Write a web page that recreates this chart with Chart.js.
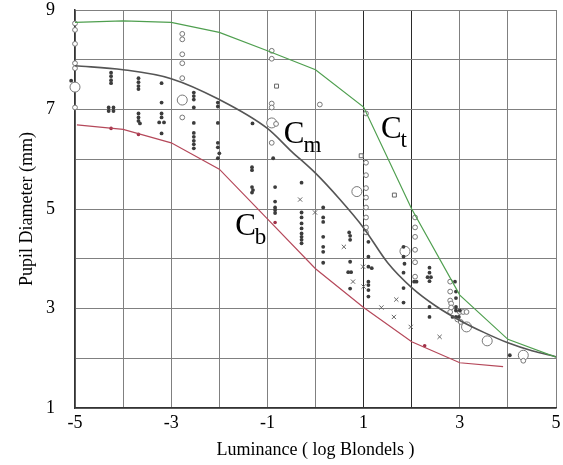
<!DOCTYPE html>
<html><head><meta charset="utf-8">
<script src="https://cdn.jsdelivr.net/npm/chart.js@4.4.1/dist/chart.umd.min.js"></script>
<style>html,body{margin:0;padding:0;background:#fff;} canvas{display:block;}</style>
</head><body>
<canvas id="c" width="563" height="465"></canvas>
<script>
// ---- tick labels ----
const xTickValues = [-5, -3, -1, 1, 3, 5];
const yTickValues = [1, 3, 5, 7, 9];
const xTitle = 'Luminance ( log Blondels )';
const yTitle = 'Pupil Diameter (mm)';

// ---- curves ----
const ctX = [-5, -4, -3, -2, -1, 0, 1, 2, 3, 4, 5];
const ctY = [8.75, 8.78, 8.75, 8.55, 8.18, 7.8, 7.05, 5.0, 3.27, 2.38, 2.02];
const cmX = [-5, -4, -3, -2, -1, -0.5, 0, 0.5, 1, 1.5, 2, 2.5, 3, 3.5, 4, 4.5, 5];
const cmY = [7.88, 7.8, 7.62, 7.2, 6.62, 6.16, 5.72, 5.2, 4.62, 3.92, 3.42, 3.05, 2.76, 2.52, 2.31, 2.15, 2.03];
const cbX = [-4.96, -4, -3, -2, -1, 0, 1, 2, 3, 3.9];
const cbY = [6.69, 6.6, 6.33, 5.8, 4.8, 3.8, 3.02, 2.33, 1.91, 1.83];
const cbMarkX = [-4.25, -3.68, -0.84, 2.27];
const cbMarkY = [6.62, 6.5, 4.73, 2.25];

// ---- observations: filled dots ----
const dotX = [-5.14,-5.1,-5.08,-5.2,-5.2,-5.12,-5.2,-5.14,
  -4.25,-4.25,-4.25,-4.25,-4.3,-4.2,-4.3,-4.2,
  -3.68,-3.68,-3.68,-3.68,-3.68,-3.68,-3.68,-3.65,
  -3.2,-3.2,-3.2,-3.2,-3.25,-3.15,-3.2,
  -2.53,-2.53,-2.53,-2.53,-2.53,-2.53,-2.53,-2.53,-2.53,-2.53,
  -2.03,-2.03,-2.03,-2.03,-2.03,-2.0,-2.03,
  -1.31,-1.32,-1.32,-1.32,-1.3,-1.32,
  -0.88,-0.84,-0.84,-0.84,-0.84,-0.84,
  -0.29,-0.29,-0.29,-0.29,-0.29,-0.29,-0.29,-0.29,-0.29,
  0.16,0.16,0.16,0.16,0.16,0.16,0.16,
  0.7,0.72,0.72,0.72,0.68,0.74,0.72,
  1.1,1.1,1.1,1.17,1.1,1.1,1.1,1.1,
  1.83,1.83,1.85,1.83,1.83,1.83,
  2.1,2.05,
  2.37,2.37,2.33,2.4,2.37,2.37,2.37,
  2.9,2.92,2.92,2.92,2.92,2.85,2.92,2.98,3.0,
  4.04];
const dotY = [7.83,7.63,7.58,7.25,7.13,7.13,7.02,6.63,
  7.74,7.67,7.59,7.53,7.04,7.04,6.97,6.97,
  7.63,7.55,7.47,7.41,6.92,6.84,6.77,6.72,
  7.53,7.14,6.92,6.84,6.74,6.74,6.52,
  7.34,7.27,7.2,7.04,6.73,6.53,6.45,6.37,6.3,6.22,
  7.14,7.06,6.73,6.33,6.24,6.12,6.02,
  6.72,5.84,5.78,5.44,5.38,5.33,
  6.02,5.44,5.15,5.03,4.98,4.92,
  5.53,4.93,4.83,4.71,4.61,4.51,4.44,4.38,4.31,
  5.03,4.83,4.74,4.44,4.24,4.14,3.92,
  4.53,4.46,4.38,3.94,3.73,3.73,3.4,
  4.34,4.04,3.84,3.81,3.54,3.47,3.37,3.24,
  4.24,4.04,3.9,3.72,3.41,3.12,
  3.54,3.54,
  3.82,3.72,3.63,3.63,3.55,3.03,2.83,
  3.54,3.34,3.21,3.03,2.96,2.83,2.83,2.83,2.96,
  2.06];

// ---- open circles (small) ----
const circX = [-5,-5,-5,-5,-5,-5,
  -2.77,-2.77,-2.77,-2.77,-2.77,-2.77,
  -0.91,-0.91,-0.91,-0.91,-0.82,-0.91,
  0.09,
  1.05,1.05,1.05,1.05,1.05,1.05,1.05,1.05,1.05,
  2.07,2.07,2.07,2.07,2.07,2.07,
  2.8,2.8,2.8,2.82,2.82,2.8,3.0,3.07,3.14,2.95,3.02,
  4.32];
const circY = [8.73,8.6,8.32,7.93,7.83,7.04,
  8.52,8.41,8.11,7.93,7.63,6.84,
  8.18,8.02,7.12,7.04,6.71,6.33,
  7.1,
  6.92,5.93,5.68,5.42,5.23,5.03,4.83,4.63,4.53,
  4.83,4.63,4.44,4.18,3.93,3.64,
  3.54,3.34,3.16,3.1,3.02,2.93,2.93,2.93,2.93,2.78,2.73,
  1.95];

// ---- open circles (large) ----
const bigX = [-5, -2.77, -0.91, 0.86, 1.86, 3.14, 3.57, 4.32];
const bigY = [7.45, 7.19, 6.73, 5.35, 4.15, 2.63, 2.35, 2.06];

// ---- open squares ----
const sqX = [-0.81, 0.95, 1.64];
const sqY = [7.47, 6.07, 5.28];

// ---- crosses ----
const crossX = [-0.32, -0.01, 0.59, 0.78, 0.99, 1.0, 1.37, 1.68, 1.63, 1.98, 2.58];
const crossY = [5.19, 4.93, 4.24, 3.54, 3.84, 3.44, 3.02, 3.18, 2.83, 2.63, 2.43];

// ---- curve labels ----
const labelMain = ['C', 'C', 'C'];
const labelSub = ['m', 't', 'b'];
const labelX = [-0.66, 1.36, -1.67];
const labelY = [6.33, 6.43, 4.48];

const pts = (xs, ys) => xs.map((x, i) => ({x, y: ys[i]}));
const SERIF = "'Liberation Serif', 'Times New Roman', serif";

const curveLabels = {
  id: 'curveLabels',
  afterDatasetsDraw(chart) {
    const {ctx, scales: {x, y}} = chart;
    ctx.save();
    ctx.fillStyle = '#000';
    ctx.textBaseline = 'alphabetic';
    ctx.textAlign = 'left';
    labelMain.forEach((t, i) => {
      const px = x.getPixelForValue(labelX[i]);
      const py = y.getPixelForValue(labelY[i]);
      ctx.font = '31px ' + SERIF;
      ctx.fillText(t, px, py);
      const w = ctx.measureText(t).width;
      ctx.font = '23px ' + SERIF;
      ctx.fillText(labelSub[i], px + w - 1, py + 9);
    });
    ctx.restore();
  }
};

const darkX = [1, 2];
new Chart(document.getElementById('c'), {
  type: 'scatter',
  data: {
    datasets: [
      {label: 'Ct', type: 'line', data: pts(ctX, ctY), borderColor: '#4f9f4f', borderWidth: 1.2, pointRadius: 0, tension: 0, fill: false},
      {label: 'Cm', type: 'line', data: pts(cmX, cmY), borderColor: '#555', borderWidth: 1.6, pointRadius: 0, cubicInterpolationMode: 'monotone', fill: false},
      {label: 'Cb', type: 'line', data: pts(cbX, cbY), borderColor: '#b5485a', borderWidth: 1.2, pointRadius: 0, tension: 0, fill: false},
      {label: 'Cb marks', data: pts(cbMarkX, cbMarkY), clip: false, pointStyle: 'circle', pointRadius: 1.8, backgroundColor: '#a03048', borderWidth: 0},
      {label: 'dots', data: pts(dotX, dotY), clip: false, pointStyle: 'circle', pointRadius: 1.9, backgroundColor: '#3c3c3c', borderWidth: 0},
      {label: 'circles', data: pts(circX, circY), clip: false, pointStyle: 'circle', pointRadius: 2.4, backgroundColor: '#fff', borderColor: '#777', borderWidth: 1},
      {label: 'big', data: pts(bigX, bigY), clip: false, pointStyle: 'circle', pointRadius: 5, backgroundColor: '#fff', borderColor: '#777', borderWidth: 1},
      {label: 'squares', data: pts(sqX, sqY), clip: false, pointStyle: 'rect', pointRadius: 2.8, backgroundColor: '#fff', borderColor: '#666', borderWidth: 1},
      {label: 'crosses', data: pts(crossX, crossY), clip: false, pointStyle: 'crossRot', pointRadius: 3, borderColor: '#666', borderWidth: 1}
    ]
  },
  options: {
    responsive: false,
    animation: false,
    layout: {padding: {left: 0, right: 7, top: 10, bottom: 0}},
    plugins: {legend: {display: false}, tooltip: {enabled: false}},
    scales: {
      x: {
        type: 'linear', min: -5, max: 5,
        afterFit: (s) => { s.height = 57; s.paddingLeft = 0; s.paddingRight = 0; },
        border: {display: true, color: '#333', width: 1.5},
        grid: {
          color: (c) => darkX.includes(c.tick && c.tick.value) ? '#2a2a2a' : '#808080',
          lineWidth: 1, drawTicks: false
        },
        ticks: {
          stepSize: 1, autoSkip: false, padding: 4, color: '#000',
          font: {family: SERIF, size: 18},
          callback: (v) => xTickValues.includes(v) ? String(v) : ''
        },
        title: {display: true, text: xTitle, color: '#000', font: {family: SERIF, size: 18}, padding: {top: 0, bottom: 4}}
      },
      y: {
        type: 'linear', min: 1, max: 9,
        afterFit: (s) => { s.width = 75; s.paddingTop = 0; s.paddingBottom = 0; },
        border: {display: true, color: '#333', width: 1.5},
        grid: {color: '#808080', lineWidth: 1, drawTicks: false},
        ticks: {
          stepSize: 1, autoSkip: false, padding: 20, color: '#000',
          font: {family: SERIF, size: 18},
          callback: (v) => yTickValues.includes(v) ? String(v) : ''
        },
        title: {display: true, text: yTitle, color: '#000', font: {family: SERIF, size: 18}, padding: {top: 16, bottom: 0}}
      }
    }
  },
  plugins: [curveLabels]
});
</script>
</body></html>
